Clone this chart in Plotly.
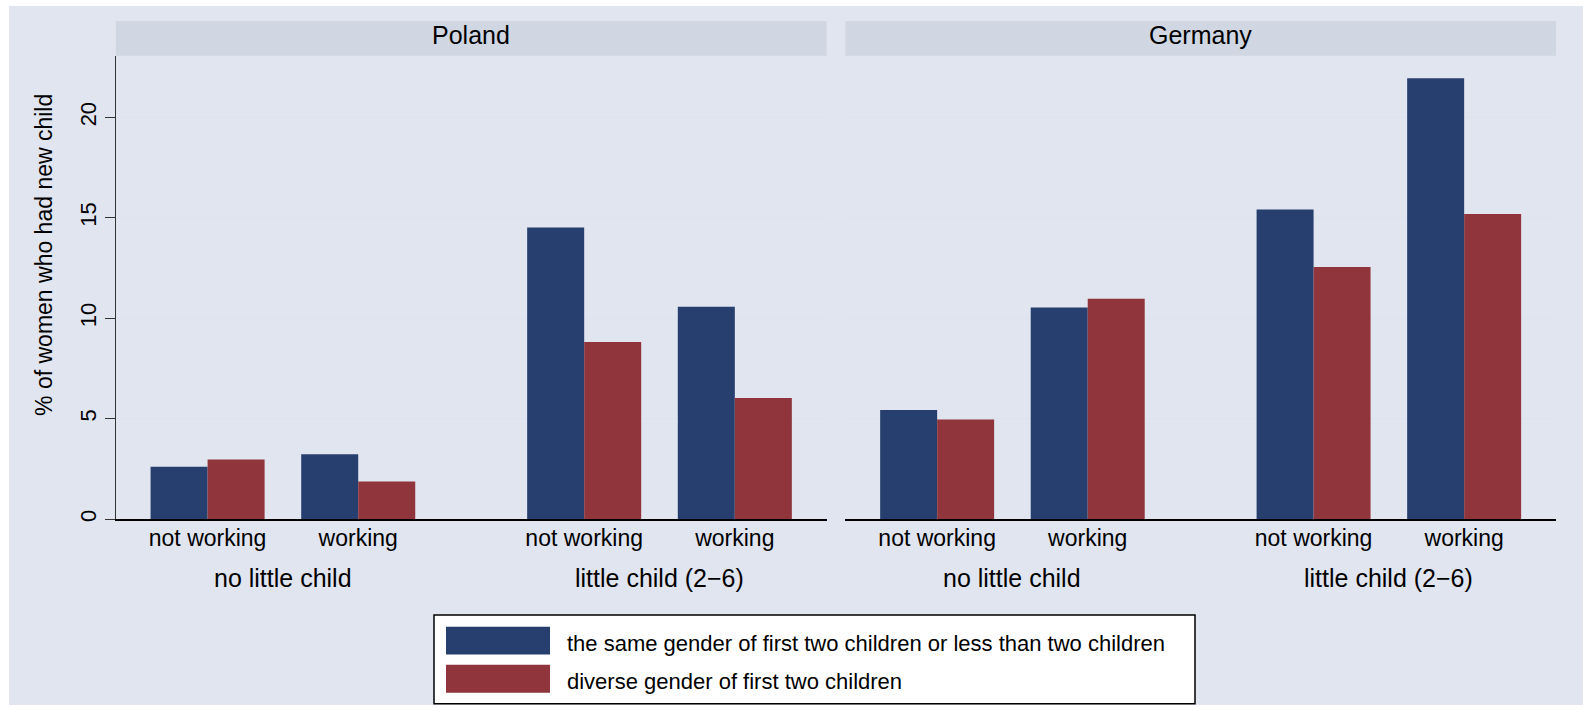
import plotly.graph_objects as go

# ---------------- data ----------------
countries = ["Poland", "Germany"]
child_groups = ["no little child", "little child (2\u22126)"]
work_status = ["not working", "working"]
series_names = [
    "the same gender of first two children or less than two children",
    "diverse gender of first two children",
]
series_colors = ["#263F6E", "#90353B"]

poland_same = [2.6, 3.23, 14.52, 10.57]
poland_diverse = [2.97, 1.87, 8.82, 6.03]
germany_same = [5.43, 10.53, 15.42, 21.95]
germany_diverse = [4.96, 10.97, 12.55, 15.19]

values = {
    "Poland": [poland_same, poland_diverse],
    "Germany": [germany_same, germany_diverse],
}
y_ticks = [0, 5, 10, 15, 20]
y_title = "% of women who had new child"

# ---------------- layout helpers ----------------
W, H = 1583, 708
FONT = "Liberation Sans, Arial, Helvetica, sans-serif"


def px(x):
    return x / W


def py(y):
    return 1 - y / H


outer_gap = 0.5  # extra spacing between outer groups (in category units)
positions = []
inner_labels = []
outer_centers = []
for gi, g in enumerate(child_groups):
    ps = []
    for wi, w in enumerate(work_status):
        p = gi * (len(work_status) + outer_gap) + wi
        positions.append(p)
        inner_labels.append(w)
        ps.append(p)
    outer_centers.append(sum(ps) / len(ps))

panel_x = [(115.7, 826.7), (845.3, 1556.0)]
plot_top, plot_bot = 56.0, 521.3
strip_top = 21.0

x_range = [-0.61, positions[-1] + 0.61]
y_range = [0, 23.07]

fig = go.Figure()

for ci, c in enumerate(countries):
    xa = "x" if ci == 0 else "x2"
    ya = "y" if ci == 0 else "y2"
    for si, name in enumerate(series_names):
        fig.add_trace(
            go.Bar(
                x=positions,
                y=values[c][si],
                name=name,
                marker=dict(color=series_colors[si], line=dict(width=0)),
                xaxis=xa,
                yaxis=ya,
                showlegend=False,
            )
        )

axis_common_x = dict(
    range=x_range,
    tickvals=positions,
    ticktext=inner_labels,
    ticks="",
    ticklabelstandoff=-3,
    showline=True,
    linecolor="#000000",
    linewidth=2,
    showgrid=False,
    zeroline=False,
    tickfont=dict(family=FONT, size=23, color="#000"),
    fixedrange=True,
)
axis_common_y = dict(
    range=y_range,
    tickvals=y_ticks,
    showgrid=True,
    gridcolor="#DDE3EE",
    gridwidth=1.2,
    zeroline=False,
    fixedrange=True,
)

shapes = []
annotations = []

# outer background
shapes.append(dict(type="rect", xref="paper", yref="paper",
                   x0=px(9), x1=1, y0=0, y1=py(6),
                   fillcolor="#E1E5F0", line=dict(width=0), layer="below"))

for ci, c in enumerate(countries):
    x0, x1 = panel_x[ci]
    # strip
    shapes.append(dict(type="rect", xref="paper", yref="paper",
                       x0=px(x0), x1=px(x1), y0=py(plot_top), y1=py(strip_top),
                       fillcolor="#D1D7E2", line=dict(width=0), layer="below"))
    annotations.append(dict(text=c, xref="paper", yref="paper",
                            x=px((x0 + x1) / 2), y=py(35),
                            xanchor="center", yanchor="middle", showarrow=False,
                            font=dict(family=FONT, size=25, color="#000")))
    xa = "x" if ci == 0 else "x2"
    for gi, g in enumerate(child_groups):
        annotations.append(dict(text=g, xref=xa, yref="paper",
                                x=outer_centers[gi], y=py(580),
                                xanchor="center", yanchor="middle", showarrow=False,
                                font=dict(family=FONT, size=25, color="#000")))

# y title
annotations.append(dict(text=y_title, xref="paper", yref="paper",
                        x=px(44), y=py(256), textangle=-90,
                        xanchor="center", yanchor="middle", showarrow=False,
                        font=dict(family=FONT, size=23, color="#000")))

# custom legend
lg_x0, lg_x1, lg_y0, lg_y1 = 434, 1195, 617.7, 706.7
shapes.append(dict(type="rect", xref="paper", yref="paper",
                   x0=px(lg_x0), x1=px(lg_x1), y0=py(lg_y1), y1=py(lg_y0),
                   fillcolor="#FFFFFF", line=dict(color="#000", width=1.5)))
row_tops = [629.3, 667.7]
for si, name in enumerate(series_names):
    t = row_tops[si]
    shapes.append(dict(type="rect", xref="paper", yref="paper",
                       x0=px(446), x1=px(550), y0=py(t + 28), y1=py(t),
                       fillcolor=series_colors[si], line=dict(width=0)))
    annotations.append(dict(text=name, xref="paper", yref="paper",
                            x=px(565), y=py(t + 16.5),
                            xanchor="left", yanchor="middle", showarrow=False,
                            font=dict(family=FONT, size=22, color="#000")))

fig.update_layout(
    width=W,
    height=H,
    margin=dict(l=0, r=0, t=0, b=0),
    paper_bgcolor="#FFFFFF",
    plot_bgcolor="#FFFFFF",
    barmode="group",
    bargap=0.243,
    bargroupgap=0,
    showlegend=False,
    font=dict(family=FONT, color="#000"),
    xaxis=dict(domain=[px(panel_x[0][0]), px(panel_x[0][1])], anchor="y", **axis_common_x),
    xaxis2=dict(domain=[px(panel_x[1][0]), px(panel_x[1][1])], anchor="y2", **axis_common_x),
    yaxis=dict(domain=[py(plot_bot), py(plot_top)], anchor="x",
               showline=True, linecolor="#333333", linewidth=1.3,
               ticks="outside", ticklen=10, tickcolor="#333333", tickwidth=1.3,
               tickangle=-90, tickfont=dict(family=FONT, size=22, color="#000"),
               **axis_common_y),
    yaxis2=dict(domain=[py(plot_bot), py(plot_top)], anchor="x2",
                showline=False, ticks="", showticklabels=False,
                **axis_common_y),
    shapes=shapes,
    annotations=annotations,
)

fig.write_html("out.html")
